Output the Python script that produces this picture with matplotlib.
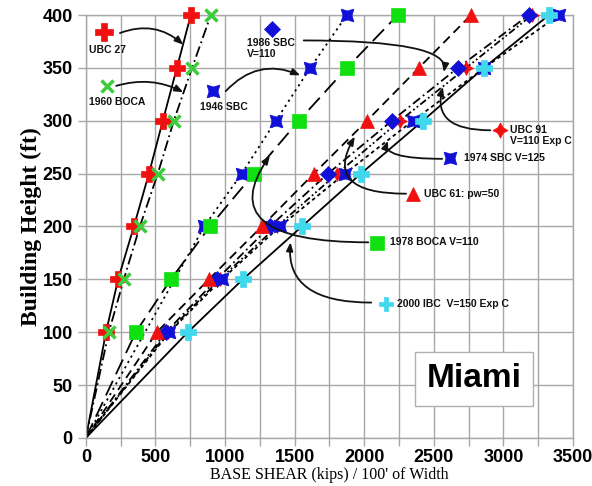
import matplotlib
matplotlib.use("Agg")
import matplotlib.pyplot as plt
from matplotlib.ticker import MultipleLocator

# ---------------- data ----------------
heights = [100, 150, 200, 250, 300, 350, 400]
ubc27 = [145, 232, 345, 453, 553, 654, 754]
boca60 = [165, 273, 388, 517, 632, 763, 898]
sbc46_h = [200, 250, 300, 350, 400]
sbc46 = [850, 1120, 1365, 1612, 1875]
sbc86 = [575, 941, 1322, 1739, 2198, 2672, 3182]
ubc91 = [590, 962, 1372, 1806, 2256, 2732, 3205]
sbc74 = [600, 977, 1394, 1861, 2349, 2862, 3398]
ubc61 = [510, 884, 1264, 1638, 2019, 2392, 2766]
boca78 = [359, 611, 891, 1207, 1530, 1875, 2241]
ibc00 = [733, 1128, 1552, 1976, 2421, 2859, 3326]

labels = ["UBC 27", "1960 BOCA", "1946 SBC", "1986 SBC\nV=110", "UBC 91\nV=110 Exp C",
          "1974 SBC V=125", "UBC 61: pw=50", "1978 BOCA V=110", "2000 IBC  V=150 Exp C"]

RED = "#f01010"
GREEN_X = "#3ccc3c"
GREEN_S = "#10e010"
BLUE = "#1010d8"
CYAN = "#40d8ec"

star4x = (4, 1, 45)
star4 = (4, 1, 0)

series = [
    (ubc27, heights, RED, "P", 12, "-", 4),
    (boca60, heights, GREEN_X, "x", 9, (0, (6, 2, 1, 2)), 5),
    (sbc46, sbc46_h, BLUE, star4x, 13, (0, (1.2, 2.2)), 4),
    (ubc91, heights, RED, star4, 10, (0, (4, 1.5, 1, 1.5, 1, 1.5)), 3),
    (sbc86, heights, BLUE, "D", 8.5, (0, (5, 2, 1, 2)), 4),
    (sbc74, heights, BLUE, star4x, 13, (0, (2, 1.8)), 3),
    (ubc61, heights, RED, "^", 10, (0, (5, 3)), 4),
    (boca78, heights, GREEN_S, "s", 10.5, (0, (9, 4)), 4),
    (ibc00, heights, CYAN, "P", 11, "-", 5),
]

fig = plt.figure(figsize=(5.92, 4.86), dpi=100)
ax = fig.add_axes([0.145, 0.099, 0.823, 0.870])

for xs, hs, col, mk, ms, ls, z in series:
    ax.plot([0] + list(xs), [0] + list(hs), color="black", lw=1.3, ls=ls, zorder=2)
    ax.plot(xs, hs, ls="none", marker=mk, color=col, ms=ms,
            mew=2.5 if mk == "x" else 0.5, mec=col, zorder=z, clip_on=False)

ax.set_xlim(0, 3500)
ax.set_ylim(0, 400)
ax.xaxis.set_major_locator(MultipleLocator(500))
ax.xaxis.set_minor_locator(MultipleLocator(250))
ax.yaxis.set_major_locator(MultipleLocator(50))
ax.grid(True, which="both", color="#a8a8a8", lw=1.0, zorder=0)
ax.set_axisbelow(True)
for s in ax.spines.values():
    s.set_color("#a8a8a8")
    s.set_linewidth(1.0)
ax.tick_params(which="both", direction="out", length=6, color="#a8a8a8", width=1.0)
ax.tick_params(axis="x", pad=2)
for lab in ax.get_xticklabels() + ax.get_yticklabels():
    lab.set_fontfamily("Liberation Sans")
    lab.set_fontweight("bold")
    lab.set_fontsize(13)

ax.set_ylabel("Building Height (ft)", family="Liberation Serif", fontweight="bold",
              fontsize=17, labelpad=0)
ax.set_xlabel("BASE SHEAR (kips) / 100' of Width", family="Liberation Serif",
              fontsize=11.5, labelpad=1)

lkw = dict(family="Liberation Sans", fontweight="bold", fontsize=7.5, color="#111111")
legend_marks = [
    (129, 384, RED, "P", 13, 158, 367, "center"),
    (151, 333, GREEN_X, "x", 9, 223, 318, "center"),
    (912, 328, BLUE, star4x, 13, 991, 313, "center"),
    (1336, 387, BLUE, "D", 8, 1160, 368, "left"),
    (2974, 291, RED, star4, 11, 3046, 286, "left"),
    (2615, 265, BLUE, star4x, 13, 2720, 265, "left"),
    (2349, 231, RED, "^", 10, 2432, 231, "left"),
    (2091, 184, GREEN_S, "s", 10, 2182, 185, "left"),
    (2155, 127, CYAN, "P", 10, 2235, 127, "left"),
]
for (mx, my, col, mk, ms, tx, ty, ha), lab in zip(legend_marks, labels):
    ax.plot([mx], [my], ls="none", marker=mk, color=col, ms=ms,
            mew=2.5 if mk == "x" else 0.5, mec=col, zorder=6)
    ax.text(tx, ty, lab, ha=ha, va="center", zorder=6, linespacing=1.1, **lkw)

arrows = [
    ((245, 383), (700, 372), "arc3,rad=-0.3"),
    ((218, 333), (700, 327), "arc3,rad=-0.2"),
    ((1005, 328), (1540, 343), "arc3,rad=-0.35"),
    ((1565, 376), (2572, 346), "angle3,angleA=0,angleB=80"),
    ((2905, 291), (2565, 332), "angle3,angleA=0,angleB=75"),
    ((2560, 264), (2170, 281), "angle3,angleA=0,angleB=70"),
    ((2300, 231), (1932, 285), "angle3,angleA=0,angleB=60"),
    ((2030, 185), (1322, 267), "angle3,angleA=0,angleB=55"),
    ((2050, 128), (1470, 185), "angle3,angleA=0,angleB=85"),
]
for tail, head, cs in arrows:
    ax.annotate("", xy=head, xytext=tail,
                arrowprops=dict(arrowstyle="-|>,head_length=0.5,head_width=0.2",
                                connectionstyle=cs, color="#111111", lw=1.3,
                                shrinkA=0, shrinkB=0), zorder=6)

ax.text(2790, 56, "Miami", ha="center", va="center", family="Liberation Sans",
        fontweight="bold", fontsize=24, zorder=7,
        bbox=dict(boxstyle="square,pad=0.35", fc="white", ec="#b0b0b0", lw=1.0))

fig.savefig("out.png", dpi=100, facecolor="white")
